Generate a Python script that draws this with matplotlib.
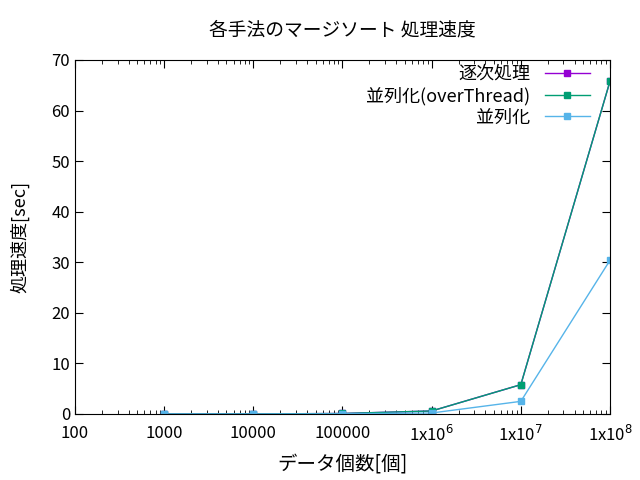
import math
import matplotlib
matplotlib.use("Agg")
import matplotlib.pyplot as plt
from matplotlib.ticker import FixedLocator, FuncFormatter, LogLocator, NullFormatter

plt.rcParams['font.family'] = ['Noto Sans CJK JP', 'DejaVu Sans']

sizes = [1000, 10000, 100000, 1000000, 10000000, 100000000]
sequential = [0.0, 0.01, 0.1, 0.6, 5.8, 65.8]
over_thread = [0.0, 0.01, 0.1, 0.6, 5.8, 65.8]
parallel = [0.0, 0.0, 0.05, 0.2, 2.5, 30.4]

labels = ['逐次処理', '並列化(overThread)', '並列化']
colors = ['#9400d3', '#009e73', '#56b4e9']

fig = plt.figure(figsize=(6.4, 4.8), dpi=100)
ax = fig.add_axes([75/640, 1-414/480, 535/640, 354/480])

for ys, lab, c in zip([sequential, over_thread, parallel], labels, colors):
    ax.plot(sizes, ys, color=c, lw=1, marker='s', ms=5, label=lab)

ax.set_xscale('log')
ax.set_xlim(100, 1e8)
ax.set_ylim(0, 70)
ax.set_yticks(range(0, 71, 10))


def fmt(v, pos):
    e = int(round(math.log10(v)))
    if e <= 5:
        return str(int(round(v)))
    return '1x10$^{%d}$' % e


ax.xaxis.set_major_locator(FixedLocator([10**k for k in range(2, 9)]))
ax.xaxis.set_major_formatter(FuncFormatter(fmt))
ax.xaxis.set_minor_locator(LogLocator(base=10, subs=range(2, 10), numticks=20))
ax.xaxis.set_minor_formatter(NullFormatter())
ax.tick_params(which='both', direction='in', top=True, right=True, labelsize=12)
ax.tick_params(which='major', length=6)
ax.tick_params(which='minor', length=3)
ax.tick_params(axis='x', pad=8)

ax.set_xlabel('データ個数[個]', fontsize=14, labelpad=6)
ax.set_ylabel('処理速度[sec]', fontsize=13, labelpad=16)
ax.set_title('各手法のマージソート 処理速度', fontsize=13.5, pad=18)

ax.legend(loc='upper right', frameon=False, markerfirst=False, fontsize=13,
          handlelength=2.5, borderaxespad=0, labelspacing=0.2,
          borderpad=0, bbox_to_anchor=(1 - 20/535, 1 - 5/354))

fig.savefig('out.png', dpi=100)
